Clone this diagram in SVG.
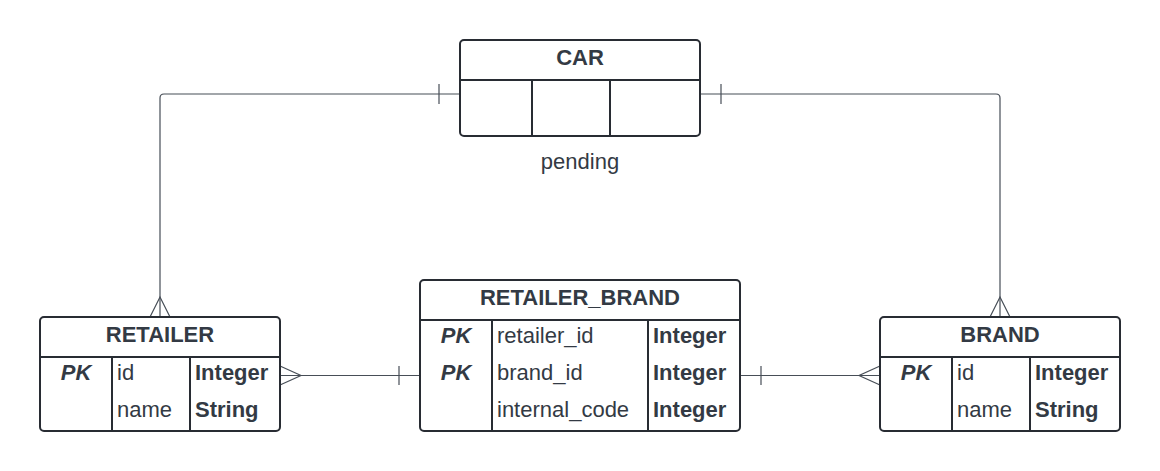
<svg xmlns="http://www.w3.org/2000/svg" width="1160" height="471" viewBox="0 0 1160 471">
<style>
.box{fill:#ffffff;stroke:#282c33;stroke-width:2}
.ln{stroke:#282c33;stroke-width:2;fill:none}
.con{stroke:#474e57;stroke-width:1.2;fill:none}
.t{font-family:"Liberation Sans",Arial,sans-serif;fill:#333a44}
.h{font-size:22px;font-weight:bold;text-anchor:middle}
.pk{font-size:22px;font-weight:bold;font-style:italic;text-anchor:middle}
.f{font-size:22px}
.ty{font-size:22px;font-weight:bold}
</style>
<rect width="1160" height="471" fill="#ffffff"/>
<g id="connectors">
  <path class="con" d="M460,94 H164 Q160,94 160,98 V317"/>
  <path class="con" d="M439,84 V104"/>
  <path class="con" d="M150,317 L160,297 L170,317"/>
  <path class="con" d="M700,94 H996 Q1000,94 1000,98 V317"/>
  <path class="con" d="M721,84 V104"/>
  <path class="con" d="M990,317 L1000,297 L1010,317"/>
  <path class="con" d="M280,375.5 H420"/>
  <path class="con" d="M280,366 L301,375.5 L280,385"/>
  <path class="con" d="M399,366 V385"/>
  <path class="con" d="M740,375.5 H880"/>
  <path class="con" d="M880,366 L859,375.5 L880,385"/>
  <path class="con" d="M761,366 V385"/>
</g>
<g id="car">
  <rect class="box" x="460" y="40" width="240" height="96" rx="4"/>
  <path class="ln" d="M460,80 H700 M532,80 V136 M610,80 V136"/>
  <text class="t h" x="580" y="65">CAR</text>
  <text class="t f" x="580" y="169" text-anchor="middle">pending</text>
</g>
<g id="retailer">
  <rect class="box" x="40" y="317" width="240" height="114" rx="4"/>
  <path class="ln" d="M40,357 H280 M112,357 V431 M190,357 V431"/>
  <text class="t h" x="160" y="342">RETAILER</text>
  <text class="t pk" x="76" y="380">PK</text>
  <text class="t f" x="117" y="380">id</text>
  <text class="t ty" x="195" y="380">Integer</text>
  <text class="t f" x="117" y="417">name</text>
  <text class="t ty" x="195" y="417">String</text>
</g>
<g id="retailer_brand">
  <rect class="box" x="420" y="280" width="320" height="151" rx="4"/>
  <path class="ln" d="M420,320 H740 M492,320 V431 M648,320 V431"/>
  <text class="t h" x="580" y="305">RETAILER_BRAND</text>
  <text class="t pk" x="456" y="343">PK</text>
  <text class="t f" x="497" y="343">retailer_id</text>
  <text class="t ty" x="653" y="343">Integer</text>
  <text class="t pk" x="456" y="380">PK</text>
  <text class="t f" x="497" y="380">brand_id</text>
  <text class="t ty" x="653" y="380">Integer</text>
  <text class="t f" x="497" y="417">internal_code</text>
  <text class="t ty" x="653" y="417">Integer</text>
</g>
<g id="brand">
  <rect class="box" x="880" y="317" width="240" height="114" rx="4"/>
  <path class="ln" d="M880,357 H1120 M952,357 V431 M1030,357 V431"/>
  <text class="t h" x="1000" y="342">BRAND</text>
  <text class="t pk" x="916" y="380">PK</text>
  <text class="t f" x="957" y="380">id</text>
  <text class="t ty" x="1035" y="380">Integer</text>
  <text class="t f" x="957" y="417">name</text>
  <text class="t ty" x="1035" y="417">String</text>
</g>
</svg>
